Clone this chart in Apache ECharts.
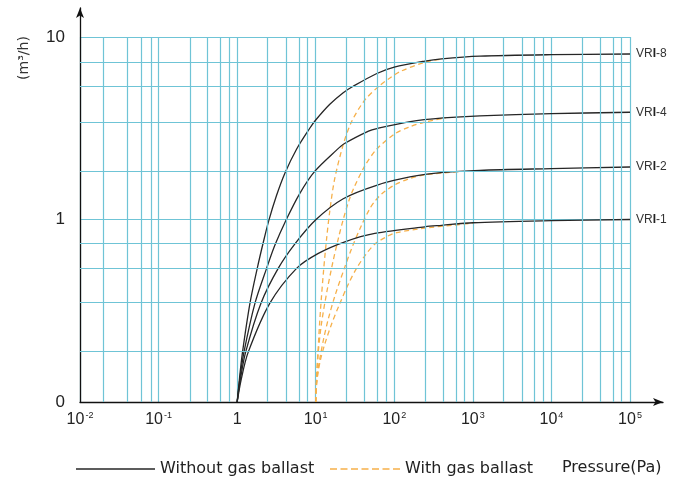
<!DOCTYPE html>
<html>
<head>
<meta charset="utf-8">
<script src="https://cdn.jsdelivr.net/npm/echarts@6/dist/echarts.min.js"></script>
<style>html,body{margin:0;padding:0;background:#fff}#c{width:686px;height:478px}</style>
</head>
<body>
<div id="c"></div>
<script>
// ---- data ----
const xTickExponents = [-2, -1, 0, 1, 2, 3, 4, 5];
const yTickValues = [0.1, 1, 10];
const yTickLabels = ['0', '1', '10'];
const xMinorMantissas = [2.45, 4.2, 6.1, 7.85];
const yMinorValues = [7.25, 5.36, 3.43, 1.84, 0.736, 0.54, 0.348, 0.187];
const curveLabels = ['8', '4', '2', '1'];

const noBallastVRI8 = [[1,0.1],[1.072,0.135],[1.159,0.182],[1.455,0.347],[1.82,0.55],[2.138,0.741],[2.512,0.977],[3.162,1.349],[4.064,1.799],[5.702,2.427],[8.395,3.162],[10,3.508],[15,4.266],[22.39,4.955],[30,5.37],[60,6.31],[100,6.84],[245,7.38],[400,7.59],[1228,7.85],[10000,8.0],[100000,8.07]];
const noBallastVRI4 = [[1,0.1],[1.084,0.135],[1.219,0.187],[1.687,0.348],[2.371,0.54],[3.027,0.724],[4.227,1.0],[6.31,1.396],[9.77,1.84],[18.4,2.4],[23,2.6],[47,3.05],[60,3.15],[160,3.44],[420,3.6],[1228,3.7],[10000,3.8],[100000,3.87]];
const noBallastVRI2 = [[1,0.1],[1.096,0.132],[1.28,0.187],[2.01,0.348],[3.33,0.54],[5.44,0.736],[10.1,1.0],[22.4,1.3],[59.5,1.54],[158,1.71],[419,1.81],[1228,1.86],[10000,1.9],[100000,1.94]];
const noBallastVRI1 = [[1,0.1],[1.122,0.132],[1.38,0.187],[2.61,0.348],[5.71,0.54],[10.8,0.652],[23.5,0.755],[56.6,0.839],[245,0.912],[400,0.929],[1000,0.96],[10000,0.985],[100000,1.0]];

const ballastVRI8 = [[10,0.1],[10.28,0.135],[10.66,0.186],[11.48,0.316],[12.59,0.525],[13.8,0.794],[15.14,1.122],[17.38,1.66],[22.39,2.57],[28.58,3.43],[42.27,4.52],[65.6,5.43],[87.9,5.96],[118,6.46],[245,7.28],[420,7.6]];
const ballastVRI4 = [[10,0.1],[10.23,0.132],[10.72,0.182],[11.75,0.263],[13.8,0.398],[16.6,0.589],[19.5,0.794],[22.4,1.0],[26.3,1.259],[30,1.462],[42.3,1.972],[59.6,2.427],[101.9,2.951],[158,3.22],[233,3.4],[450,3.6]];
const ballastVRI2 = [[10,0.1],[10.23,0.126],[10.72,0.151],[11.48,0.18],[12.59,0.221],[14.45,0.285],[17.5,0.38],[23.5,0.55],[28.6,0.692],[38.4,0.933],[48.9,1.148],[56.6,1.259],[68.9,1.38],[101.9,1.549],[158,1.679],[245,1.758],[700,1.832]];
const ballastVRI1 = [[10,0.1],[10.23,0.123],[10.72,0.145],[11.48,0.17],[13.1,0.209],[15.85,0.266],[20.3,0.347],[26.3,0.447],[33.1,0.54],[43.7,0.646],[56.6,0.733],[79.4,0.804],[107,0.847],[258,0.9],[600,0.933],[1000,0.957]];

// ---- build ----
const GRID = '#6fc4d6';
const BLACK = '#262626';
const ORANGE = '#f6b04a';
const FONT = 'DejaVu Sans';

const minorMarks = [];
for (let d = -2; d <= 4; d++) {
  xMinorMantissas.forEach(m => minorMarks.push({ xAxis: m * Math.pow(10, d) }));
}
yMinorValues.forEach(v => minorMarks.push({ yAxis: v }));

function curve(name, data, color, dashed, lbl) {
  const s = {
    name: name, type: 'line', data: data, xAxisIndex: 0, yAxisIndex: 0,
    symbol: 'none', smooth: 0.3, z: 3,
    lineStyle: { color: color, width: 1.3, type: dashed ? [5, 3.5] : 'solid' },
    itemStyle: { color: color }
  };
  if (lbl) {
    s.endLabel = {
      show: true, distance: 6, formatter: '{a|VR}{b|I}{a|-' + lbl + '}',
      rich: {
        a: { fontSize: 12, color: '#333', fontFamily: 'Liberation Sans' },
        b: { fontSize: 12, color: '#222', fontWeight: 'bold', fontFamily: 'Liberation Sans' }
      }
    };
  }
  return s;
}

const blacks = [noBallastVRI8, noBallastVRI4, noBallastVRI2, noBallastVRI1];
const oranges = [ballastVRI8, ballastVRI4, ballastVRI2, ballastVRI1];

const series = [{
  type: 'line', data: [], xAxisIndex: 0, yAxisIndex: 0, z: 1, silent: true,
  markLine: {
    silent: true, symbol: 'none', animation: false, label: { show: false },
    lineStyle: { color: GRID, width: 1.2, type: 'solid' },
    emphasis: { disabled: true },
    data: minorMarks
  }
}];
oranges.forEach(d => series.push(curve('With gas ballast', d, ORANGE, true, null)));
blacks.forEach((d, i) => series.push(curve('Without gas ballast', d, BLACK, false, curveLabels[i])));

const legendText = { fontFamily: FONT, fontSize: 16, color: '#222' };
const solidIcon = 'path://M0,0h79v1.3h-79z';
const dashIcon = 'path://M0,0h7v1.3h-7z M10.5,0h7v1.3h-7z M21,0h7v1.3h-7z M31.5,0h7v1.3h-7z M42,0h7v1.3h-7z M52.5,0h7v1.3h-7z M63,0h7v1.3h-7z';

const option = {
  animation: false,
  backgroundColor: '#fff',
  title: {
    text: 'Pressure(Pa)', left: 562, top: 460, padding: 0,
    textStyle: { fontFamily: FONT, fontSize: 16, fontWeight: 'normal', color: '#222' }
  },
  legend: [
    { data: [{ name: 'Without gas ballast', icon: solidIcon }], left: 76, top: 461, padding: 0, itemWidth: 79, itemHeight: 1.3, symbolKeepAspect: false, textStyle: legendText, selectedMode: false },
    { data: [{ name: 'With gas ballast', icon: dashIcon }], left: 330, top: 461, padding: 0, itemWidth: 70, itemHeight: 1.3, symbolKeepAspect: false, textStyle: legendText, selectedMode: false }
  ],
  grid: [
    { left: 80, right: 56, top: 37, bottom: 76 },
    { left: 80, right: 23, top: 8, bottom: 76 }
  ],
  xAxis: [
    {
      type: 'log', logBase: 10, gridIndex: 0,
      min: Math.pow(10, xTickExponents[0]), max: Math.pow(10, xTickExponents[xTickExponents.length - 1]),
      interval: 1,
      axisLine: { show: false }, axisTick: { show: false },
      splitLine: { show: true, lineStyle: { color: GRID, width: 1.2 } },
      axisLabel: {
        margin: 9,
        formatter: function (v) {
          const e = Math.round(Math.log10(v));
          if (xTickExponents.indexOf(e) < 0) return '';
          return e === 0 ? '{n|1}' : '{n|10}{s|' + e + '}';
        },
        rich: {
          n: { fontSize: 16, lineHeight: 18, color: '#222', fontFamily: 'Liberation Sans' },
          s: { fontSize: 9, lineHeight: 9, verticalAlign: 'top', color: '#222', fontFamily: 'Liberation Sans', padding: [0, 0, 0, 1] }
        }
      }
    },
    {
      type: 'value', gridIndex: 1, min: 0, max: 1,
      axisLine: { show: true, symbol: ['none', 'arrow'], symbolSize: [6, 10], lineStyle: { color: '#111', width: 1.3 } },
      axisTick: { show: false }, axisLabel: { show: false }, splitLine: { show: false }
    }
  ],
  yAxis: [
    {
      type: 'log', logBase: 10, gridIndex: 0,
      min: yTickValues[0], max: yTickValues[yTickValues.length - 1], interval: 1,
      axisLine: { show: false }, axisTick: { show: false },
      splitLine: { show: true, lineStyle: { color: GRID, width: 1.2 } },
      axisLabel: {
        margin: 15, fontSize: 17, color: '#222', fontFamily: 'Liberation Sans',
        formatter: function (v) {
          for (let i = 0; i < yTickValues.length; i++) {
            if (Math.abs(Math.log10(v) - Math.log10(yTickValues[i])) < 1e-6) return yTickLabels[i];
          }
          return '';
        }
      }
    },
    {
      type: 'value', gridIndex: 1, min: 0, max: 1,
      axisLine: { show: true, symbol: ['none', 'arrow'], symbolSize: [6, 10], lineStyle: { color: '#111', width: 1.3 } },
      axisTick: { show: false }, axisLabel: { show: false }, splitLine: { show: false }
    }
  ],
  graphic: [{
    type: 'text', x: 24, y: 58, rotation: Math.PI / 2,
    style: { text: '(m³/h)', fontSize: 14, fontFamily: FONT, fill: '#333', textAlign: 'center', textVerticalAlign: 'middle' }
  }],
  series: series
};

const chart = echarts.init(document.getElementById('c'), null, { renderer: 'canvas' });
chart.setOption(option);
</script>
</body>
</html>
